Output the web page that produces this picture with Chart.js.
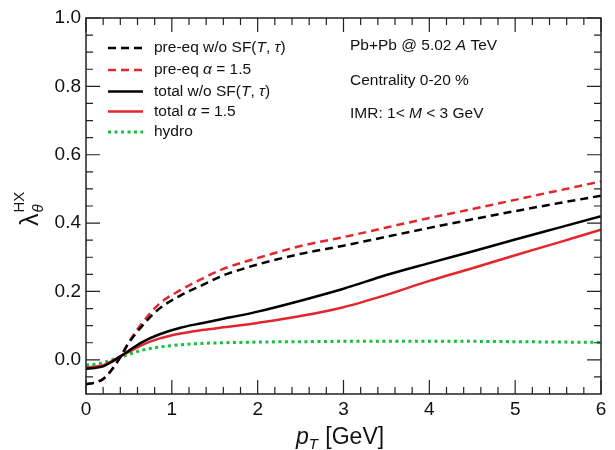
<!DOCTYPE html>
<html>
<head>
<meta charset="utf-8">
<script src="https://cdn.jsdelivr.net/npm/chart.js@4"></script>
<style>
  html, body { margin: 0; padding: 0; background: #fff; }
  #wrap { width: 615px; height: 450px; }
</style>
</head>
<body>
<div id="wrap"><canvas id="chart" width="615" height="450"></canvas></div>
<script>
// data
const ptValues   = [0, 0.1, 0.2, 0.3, 0.4, 0.5, 0.65, 0.85, 1.1, 1.35, 1.6, 1.8, 2.0, 2.5, 3.0, 3.5, 4.0, 4.5, 5.0, 5.5, 6.0];
const preEqNoSF  = [-0.071, -0.067, -0.056, -0.029, 0.008, 0.050, 0.098, 0.149, 0.188, 0.218, 0.247, 0.264, 0.279, 0.310, 0.334, 0.360, 0.386, 0.411, 0.435, 0.458, 0.480];
const preEqAlpha = [-0.071, -0.067, -0.056, -0.029, 0.008, 0.052, 0.106, 0.163, 0.204, 0.237, 0.266, 0.283, 0.298, 0.333, 0.359, 0.387, 0.415, 0.441, 0.468, 0.495, 0.522];
const totalNoSF  = [-0.026, -0.024, -0.019, -0.006, 0.010, 0.027, 0.051, 0.074, 0.094, 0.107, 0.120, 0.130, 0.141, 0.173, 0.208, 0.248, 0.283, 0.317, 0.352, 0.386, 0.420];
const totalAlpha = [-0.022, -0.020, -0.016, -0.004, 0.010, 0.023, 0.043, 0.062, 0.077, 0.087, 0.095, 0.101, 0.108, 0.128, 0.154, 0.190, 0.231, 0.268, 0.306, 0.343, 0.381];
const hydro      = [-0.015, -0.013, -0.008, 0.000, 0.008, 0.016, 0.028, 0.037, 0.044, 0.048, 0.050, 0.051, 0.052, 0.053, 0.054, 0.054, 0.054, 0.054, 0.053, 0.052, 0.051];

const xTicks = [0, 1, 2, 3, 4, 5, 6];
const yTicks = [0, 0.2, 0.4, 0.6, 0.8, 1.0];

// legend labels as [text, italic] pieces
const legendLabels = [
  [['pre-eq w/o SF(', false], ['T', true], [', ', false], ['τ', true], [')', false]],
  [['pre-eq ', false], ['α', true], [' = 1.5', false]],
  [['total w/o SF(', false], ['T', true], [', ', false], ['τ', true], [')', false]],
  [['total ', false], ['α', true], [' = 1.5', false]],
  [['hydro', false]]
];
const infoLines = [
  [['Pb+Pb @ 5.02 ', false], ['A', true], [' TeV', false]],
  [['Centrality 0-20 %', false]],
  [['IMR: 1< ', false], ['M', true], [' < 3 GeV', false]]
];

const FONT = '"Liberation Sans", Arial, Helvetica, sans-serif';
const RED = '#e3262b';
const GREEN = '#10c23c';

const toXY = ys => ptValues.map((x, i) => ({ x: x, y: ys[i] }));

function drawRich(ctx, parts, x, y, size) {
  let cx = x;
  parts.forEach(([txt, it]) => {
    ctx.font = (it ? 'italic ' : '') + size + 'px ' + FONT;
    ctx.fillText(txt, cx, y);
    cx += ctx.measureText(txt).width;
  });
  return cx;
}

const framePlugin = {
  id: 'frame',
  afterDraw(chart) {
    const { ctx, chartArea: a, scales: { x, y } } = chart;
    ctx.save();
    ctx.strokeStyle = '#222';
    ctx.lineWidth = 1.5;
    ctx.strokeRect(a.left, a.top, a.right - a.left, a.bottom - a.top);
    ctx.lineWidth = 1.2;
    ctx.beginPath();
    for (let i = 0; i <= 30; i++) {
      const v = i * 0.2;
      const px = x.getPixelForValue(v);
      const len = i % 5 === 0 ? 14 : 7;
      ctx.moveTo(px, a.bottom); ctx.lineTo(px, a.bottom - len);
      ctx.moveTo(px, a.top); ctx.lineTo(px, a.top + len);
    }
    for (let i = -1; i <= 20; i++) {
      const v = i * 0.05;
      const py = y.getPixelForValue(v);
      const len = i % 4 === 0 ? 14 : 7;
      ctx.moveTo(a.left, py); ctx.lineTo(a.left + len, py);
      ctx.moveTo(a.right, py); ctx.lineTo(a.right - len, py);
    }
    ctx.stroke();

    // legend
    ctx.fillStyle = '#111';
    ctx.textBaseline = 'middle';
    const rows = [48, 70, 91.5, 111.5, 132];
    chart.data.datasets.forEach((ds, i) => {
      const ly = rows[i];
      ctx.strokeStyle = ds.borderColor;
      ctx.lineWidth = ds.borderWidth;
      ctx.setLineDash(ds.borderDash || []);
      ctx.beginPath();
      ctx.moveTo(108, ly); ctx.lineTo(143, ly);
      ctx.stroke();
      ctx.setLineDash([]);
      drawRich(ctx, legendLabels[i], 154, ly, 15.5);
    });

    // info text
    [45.5, 81, 114].forEach((ty, i) => drawRich(ctx, infoLines[i], 350, ty, 15.5));

    // x title
    ctx.textBaseline = 'alphabetic';
    ctx.font = 'italic 23px ' + FONT;
    ctx.fillText('p', 296, 444);
    let cx = 296 + ctx.measureText('p').width;
    ctx.font = 'italic 15px ' + FONT;
    ctx.fillText('T', cx, 449);
    cx += ctx.measureText('T').width + 1;
    ctx.font = '23px ' + FONT;
    ctx.fillText(' [GeV]', cx, 444);

    // y title
    ctx.translate(38, 226);
    ctx.rotate(-Math.PI / 2);
    ctx.font = '25px ' + FONT;
    ctx.fillText('λ', 0, 0);
    const lw = ctx.measureText('λ').width;
    ctx.font = 'italic 15px ' + FONT;
    ctx.fillText('θ', lw + 1, 5);
    ctx.font = '15px ' + FONT;
    ctx.fillText('HX', lw + 1, -14);
    ctx.restore();
  }
};

new Chart(document.getElementById('chart'), {
  type: 'line',
  data: {
    datasets: [
      { label: 'pre-eq w/o SF', data: toXY(preEqNoSF), borderColor: '#000', borderWidth: 2.5, borderDash: [8, 5] },
      { label: 'pre-eq alpha', data: toXY(preEqAlpha), borderColor: RED, borderWidth: 2.5, borderDash: [8, 5] },
      { label: 'total w/o SF', data: toXY(totalNoSF), borderColor: '#000', borderWidth: 2.5 },
      { label: 'total alpha', data: toXY(totalAlpha), borderColor: RED, borderWidth: 2.5 },
      { label: 'hydro', data: toXY(hydro), borderColor: GREEN, borderWidth: 3, borderDash: [3, 3.5] }
    ]
  },
  options: {
    responsive: false,
    animation: false,
    layout: { padding: { left: 0, right: 14, top: 18, bottom: 0 } },
    elements: { point: { radius: 0 }, line: { cubicInterpolationMode: 'monotone', fill: false } },
    plugins: { legend: { display: false }, tooltip: { enabled: false } },
    scales: {
      x: {
        type: 'linear', min: 0, max: 6,
        grid: { display: false, drawTicks: false }, border: { display: false },
        afterBuildTicks: s => { s.ticks = xTicks.map(v => ({ value: v })); },
        afterFit: s => { s.height = 56; },
        ticks: { color: '#111', font: { family: FONT, size: 19 }, padding: 4, maxRotation: 0 }
      },
      y: {
        type: 'linear', min: -0.1, max: 1.0,
        grid: { display: false, drawTicks: false }, border: { display: false },
        afterBuildTicks: s => { s.ticks = yTicks.map(v => ({ value: v })); },
        afterFit: s => { s.width = 86; },
        ticks: { color: '#111', font: { family: FONT, size: 19 }, padding: 5, callback: v => v.toFixed(1) }
      }
    }
  },
  plugins: [framePlugin]
});
</script>
</body>
</html>
